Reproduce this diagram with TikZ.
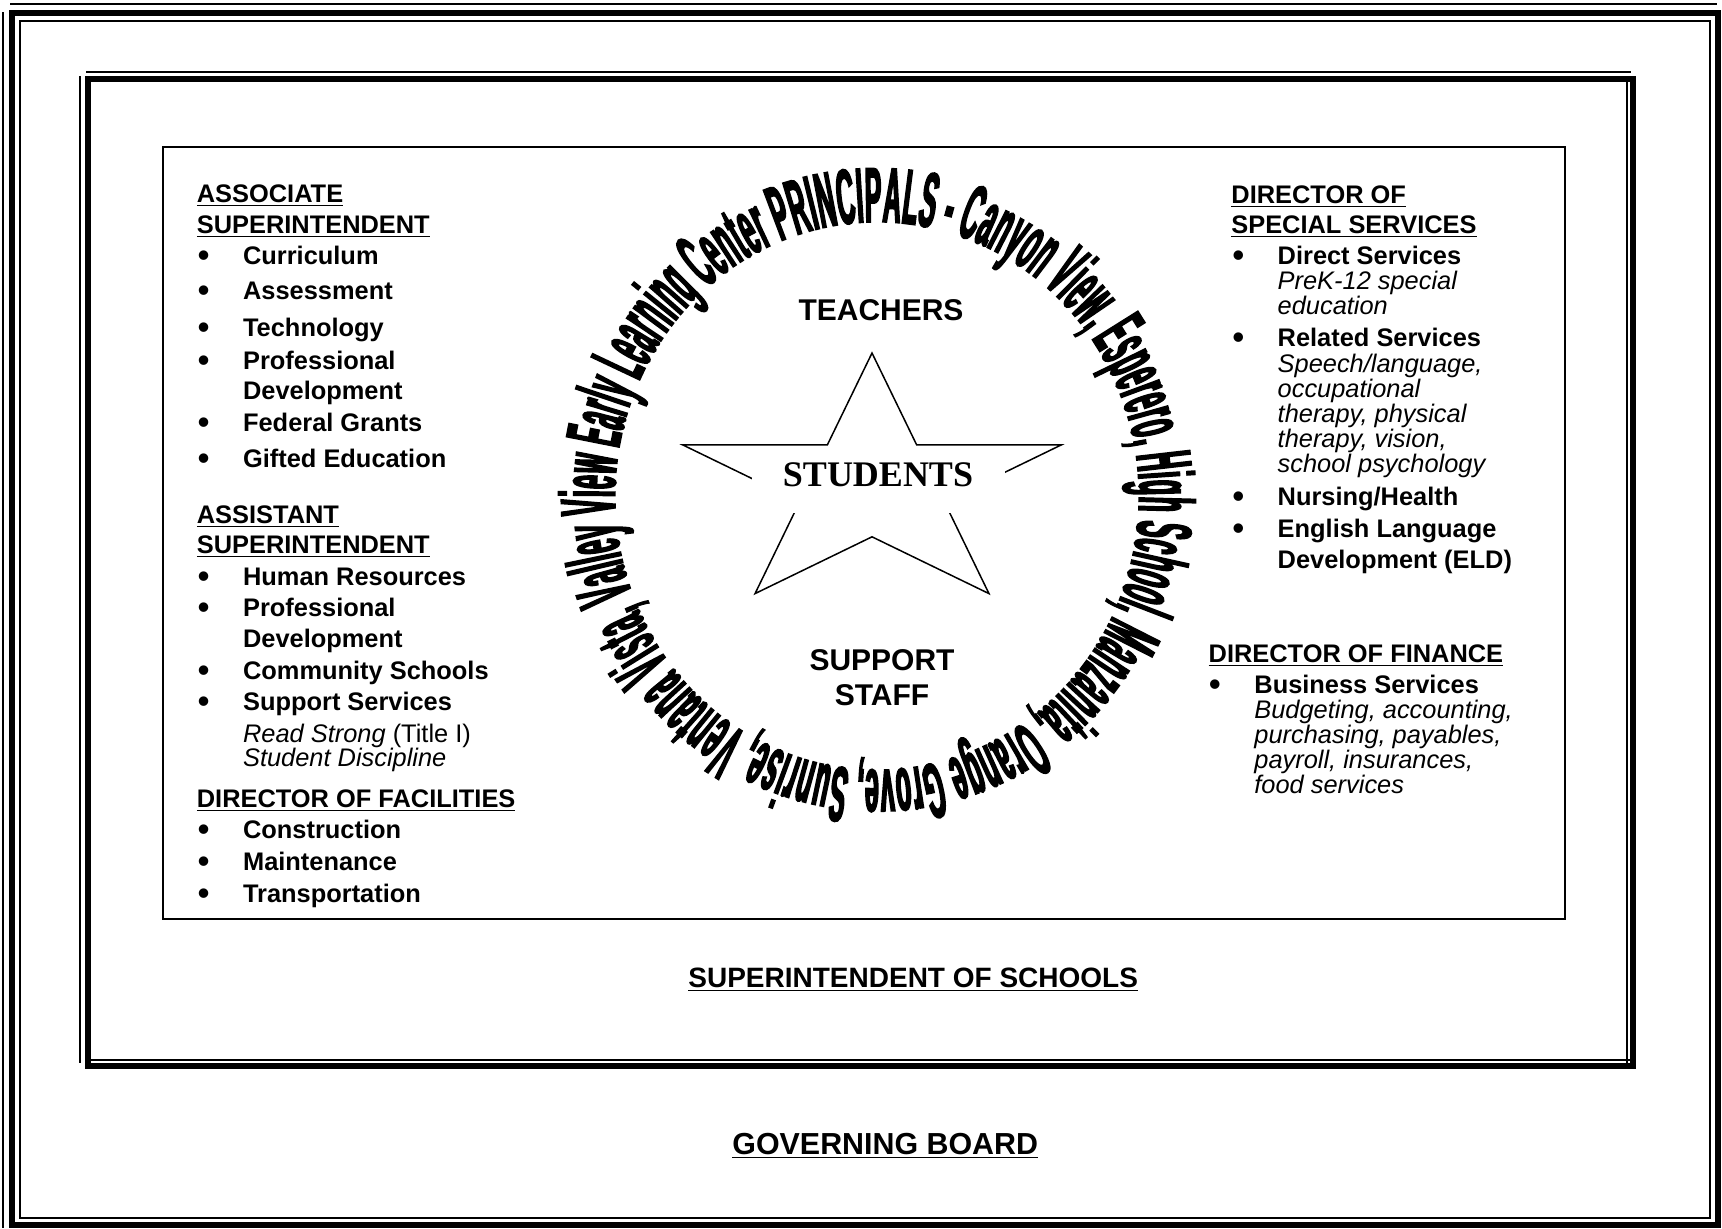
\documentclass[tikz,border=0pt]{standalone}
\usepackage{fontspec}
\setmainfont{Liberation Sans}
\newfontfamily\stufont{Liberation Serif}
\newfontfamily\ringfont{Liberation Sans}[FakeStretch=0.318, BoldFeatures={FakeBold=2}]
\usetikzlibrary{decorations.text}
\newcommand\myul[1]{\setbox0\hbox{#1}\rlap{\rule[-2.2pt]{\wd0}{0.9pt}}\box0}
\newcommand\bul{\makebox[22.6pt][l]{\raisebox{-1.1pt}{\scalebox{1.3}{\textbullet}}}}
\newcommand\bodyfs{\fontsize{12.7}{15}\selectfont}
\begin{document}
\begin{tikzpicture}[x=0.5pt,y=0.5pt,
  lbl/.style={anchor=base west, inner sep=0pt, font=\bodyfs\bfseries},
  itl/.style={anchor=base west, inner sep=0pt, font=\bodyfs\itshape},
  ctr/.style={anchor=base, inner sep=0pt, font=\fontsize{15}{18}\selectfont\bfseries},
  thickrule/.style={line width=3pt},
  thinrule/.style={line width=1pt}]
\useasboundingbox (0,0) rectangle (1722,-1228);
\fill[white] (0,0) rectangle (1722,-1228);
% outer frame
\draw[thickrule] (11.5,-12.5) rectangle (1718,-1225);
\draw[thinrule] (19.5,-20.5) rectangle (1709.5,-1217.5);
\draw[thinrule] (10,-3.5) -- (1717,-3.5);
\draw[thinrule] (3,-12) -- (3,-1228);
% middle frame
\draw[thickrule] (87.5,-79) rectangle (1633,-1066);
\draw[thinrule] (86,-72) -- (1631,-72);
\draw[thinrule] (80,-76) -- (80,-1063);
\draw[thinrule] (90,-1059.5) -- (1630,-1059.5);
\draw[thinrule] (1626.5,-82) -- (1626.5,-1063);
% inner box
\draw[line width=0.8pt] (163,-147) rectangle (1565,-919);

% left column
\node[lbl] (as1) at (196.5,-202) {\myul{ASSOCIATE}};
\node[lbl] (as2) at (196.5,-233) {\myul{SUPERINTENDENT}};
\node[lbl] (as3) at (197.5,-264) {\bul Curriculum};
\node[lbl] (as4) at (197.5,-299) {\bul Assessment};
\node[lbl] (as5) at (197.5,-336) {\bul Technology};
\node[lbl] (as6) at (197.5,-369) {\bul Professional};
\node[lbl] (as7) at (242.7,-399) {Development};
\node[lbl] (as8) at (197.5,-431) {\bul Federal Grants};
\node[lbl] (as9) at (197.5,-467) {\bul Gifted Education};
\node[lbl] (at1) at (196.5,-523) {\myul{ASSISTANT}};
\node[lbl] (at2) at (196.5,-553) {\myul{SUPERINTENDENT}};
\node[lbl] (at3) at (197.5,-585) {\bul Human Resources};
\node[lbl] (at4) at (197.5,-616) {\bul Professional};
\node[lbl] (at5) at (242.7,-647) {Development};
\node[lbl] (at6) at (197.5,-679) {\bul Community Schools};
\node[lbl] (at7) at (197.5,-710) {\bul Support Services};
\node[anchor=base west, inner sep=0pt, font=\bodyfs] (at8) at (242.7,-742) {\textit{Read Strong} (Title I)};
\node[itl] (at9) at (242.7,-766) {Student Discipline};
\node[lbl] (fa1) at (196.5,-807) {\myul{DIRECTOR OF FACILITIES}};
\node[lbl] (fa2) at (197.5,-838) {\bul Construction};
\node[lbl] (fa3) at (197.5,-870) {\bul Maintenance};
\node[lbl] (fa4) at (197.5,-902) {\bul Transportation};

% right column
\node[lbl] (sp1) at (1231,-203) {\myul{DIRECTOR OF}};
\node[lbl] (sp2) at (1231,-233) {\myul{SPECIAL SERVICES}};
\node[lbl] (sp3) at (1232.1,-264) {\bul Direct Services};
\node[itl] (sp4) at (1277.3,-289) {PreK-12 special};
\node[itl] (sp5) at (1277.3,-314) {education};
\node[lbl] (sp6) at (1232.1,-346) {\bul Related Services};
\node[itl] (sp7) at (1277.3,-372) {Speech/language,};
\node[itl] (sp8) at (1277.3,-397) {occupational};
\node[itl] (sp9) at (1277.3,-422) {therapy, physical};
\node[itl] (sp10) at (1277.3,-447) {therapy, vision,};
\node[itl] (sp11) at (1277.3,-472) {school psychology};
\node[lbl] (sp12) at (1232.1,-505) {\bul Nursing/Health};
\node[lbl] (sp13) at (1232.1,-537) {\bul English Language};
\node[lbl] (sp14) at (1277.3,-568) {Development (ELD)};
\node[lbl] (fi1) at (1208.3,-662) {\myul{DIRECTOR OF FINANCE}};
\node[lbl] (fi2) at (1208.8,-693) {\bul Business Services};
\node[itl] (fi3) at (1254,-718) {Budgeting, accounting,};
\node[itl] (fi4) at (1254,-743) {purchasing, payables,};
\node[itl] (fi5) at (1254,-768) {payroll, insurances,};
\node[itl] (fi6) at (1254,-793) {food services};

% star
\begin{scope}[shift={(872,-486)}]
\draw[line width=0.75pt] (90:199 and 133) -- (126:76 and 50.8) -- (162:199 and 133) -- (198:76 and 50.8) -- (234:199 and 133) -- (270:76 and 50.8) -- (306:199 and 133) -- (342:76 and 50.8) -- (18:199 and 133) -- (54:76 and 50.8) -- cycle;
\end{scope}
\node[fill=white, inner sep=0pt, minimum width=126.5pt, minimum height=33pt] (stubox) at (878.5,-479.5) {};
\node[anchor=base, inner sep=0pt, font=\stufont\fontsize{18}{20}\selectfont\bfseries] (students) at (878,-486) {STUDENTS};

\node[ctr] (teachers) at (881,-320) {TEACHERS};
\node[ctr] (support) at (882,-670) {SUPPORT};
\node[ctr] (staff) at (882,-705) {STAFF};

% ring text
\coordinate (ringc) at (877,-496);
\path[decorate, decoration={text along path, text align=fit to path,
  text={|\ringfont\bfseries\fontsize{39}{39}\selectfont|Valley View Early Learning Center PRINCIPALS - Canyon View, Esperero, High School, Manzanita, Orange Grove, Sunrise, Ventana Vista,}}]
  (ringc) ++(201:262 and 274) arc[start angle=201, end angle=-157, x radius=262, y radius=274];

% bottom titles
\node[anchor=base west, inner sep=0pt, font=\fontsize{14}{16}\selectfont\bfseries] (supt) at (688,-987) {\myul{SUPERINTENDENT OF SCHOOLS}};
\node[anchor=base west, inner sep=0pt, font=\fontsize{15.2}{17}\selectfont\bfseries] (board) at (732,-1154) {\myul{GOVERNING BOARD}};
\end{tikzpicture}
\end{document}
